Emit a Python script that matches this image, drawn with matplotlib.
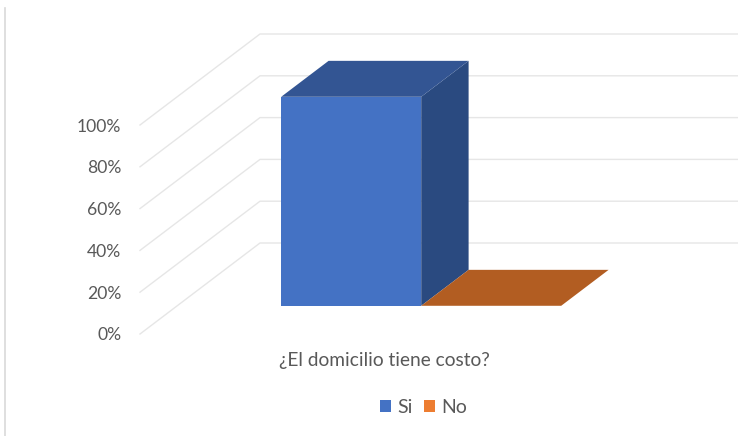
"""3D-look column chart drawn on a flat axes with an oblique projection."""

import matplotlib.pyplot as plt
from matplotlib.lines import Line2D
from matplotlib.patches import Patch, Polygon

categories = ["Si", "No"]
values = [100, 0]
y_ticks = [0, 20, 40, 60, 80, 100]
y_tick_labels = ["0%", "20%", "40%", "60%", "80%", "100%"]
x_label = "¿El domicilio tiene costo?"

front_colors = ["#4472C4", "#ED7D31"]
top_colors = ["#335593", "#B25D22"]
side_colors = ["#2A4A80", "#9E5222"]

GRID = "#E6E6E6"
TEXT = "#595959"
FONT = "Lato"

W, H = 738, 436
# plot floor in pixels (front edge), y measured from the top of the image
LEFT, RIGHT, BOTTOM, TOP = 140, 628, 334, 125

# depth vector of the 3D box, in data units
DEPTH_X = 120 / (RIGHT - LEFT)
DEPTH_Y = 91 / (BOTTOM - TOP) * 100
# where the bars sit inside the depth, and their width
BAR_T0, BAR_T1 = 0.31, 0.705
BAR_W = 140 / (RIGHT - LEFT)


def project(x, v, t):
    """Oblique projection of (x, value, depth) on the flat axes."""
    return (x + t * DEPTH_X, v + t * DEPTH_Y)


fig = plt.figure(figsize=(W / 100, H / 100), dpi=100)
ax = fig.add_axes(
    [LEFT / W, 1 - BOTTOM / H, (RIGHT - LEFT) / W, (BOTTOM - TOP) / H]
)
ax.set_xlim(0, 1)
ax.set_ylim(0, 100)
for spine in ax.spines.values():
    spine.set_visible(False)

# gridlines: floor/side wall then back wall
for v in y_ticks:
    pts = [project(0, v, 0), project(0, v, 1), project(1, v, 1)]
    ax.plot(
        [p[0] for p in pts],
        [p[1] for p in pts],
        color=GRID,
        lw=1.0,
        clip_on=False,
        zorder=1,
    )

# bars
x0 = 0.5 - BAR_W
for i, val in enumerate(values):
    xa = x0 + i * BAR_W
    xb = xa + BAR_W
    faces = [
        (
            [
                project(xb, 0, BAR_T0),
                project(xb, 0, BAR_T1),
                project(xb, val, BAR_T1),
                project(xb, val, BAR_T0),
            ],
            side_colors[i],
        ),
        (
            [
                project(xa, val, BAR_T0),
                project(xb, val, BAR_T0),
                project(xb, val, BAR_T1),
                project(xa, val, BAR_T1),
            ],
            top_colors[i],
        ),
        (
            [
                project(xa, 0, BAR_T0),
                project(xb, 0, BAR_T0),
                project(xb, val, BAR_T0),
                project(xa, val, BAR_T0),
            ],
            front_colors[i],
        ),
    ]
    for pts, col in faces:
        ax.add_patch(
            Polygon(pts, closed=True, fc=col, ec="none", clip_on=False, zorder=3 + i)
        )

ax.set_yticks(y_ticks, y_tick_labels, fontsize=12.6, color=TEXT, family=FONT)
ax.set_xticks([0.5], [x_label], fontsize=13.8, color=TEXT, family=FONT)
ax.tick_params(axis="y", length=0, pad=13.5)
ax.tick_params(axis="x", length=0, pad=13)

handles = [Patch(fc=c, ec="none") for c in front_colors]
ax.legend(
    handles,
    categories,
    loc="center",
    bbox_to_anchor=(423.5 / W, 1 - 407 / H),
    bbox_transform=fig.transFigure,
    ncol=2,
    frameon=False,
    handlelength=0.56,
    handleheight=0.56,
    handletextpad=0.3,
    columnspacing=0.6,
    labelcolor=TEXT,
    prop={"family": FONT, "size": 14},
)

# thin border left over on the left side of the chart
fig.add_artist(
    Line2D([5 / W, 5 / W], [0, 1 - 8 / H], color="#D9D9D9", lw=1.2)
)

fig.savefig("out.png", dpi=100)
